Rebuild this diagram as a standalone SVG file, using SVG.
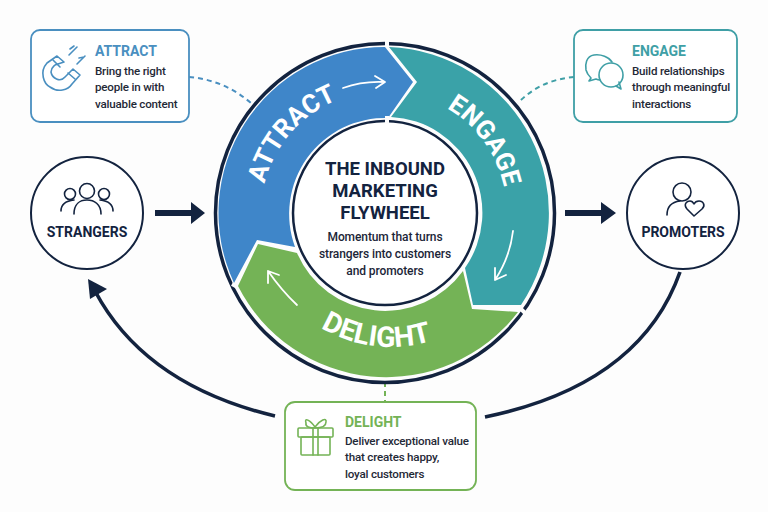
<svg xmlns="http://www.w3.org/2000/svg" width="768" height="512" viewBox="0 0 768 512">
<style>
text{font-family:Roboto,"Liberation Sans",sans-serif}
.navy{fill:none;stroke:#13233f}
.wl{font-size:26px;font-weight:700;fill:#fff}
.wd{font-size:28.5px}
.ct{font-size:18.5px;font-weight:700;fill:#13233f;text-anchor:middle}
.cs{font-size:12px;font-weight:500;fill:#1c2638;text-anchor:middle;letter-spacing:-.1px}
.cd{font-size:14px;font-weight:700}
.b{font-size:11.6px;font-weight:500;fill:#1f2937;letter-spacing:-.2px}
.nl{font-size:14px;font-weight:700;fill:#13233f;text-anchor:middle}
.card{fill:#fff;stroke-width:1.8}
.ic{fill:none;stroke-width:1.6;stroke-linecap:round;stroke-linejoin:round}
.wa{fill:none;stroke:#fff;stroke-width:1.8;stroke-linecap:round;stroke-linejoin:round}
.dash{fill:none;stroke-width:2;stroke-dasharray:5 4}
.gap{stroke:#fdfdfd;stroke-width:4}
</style>
<defs>
<path id="pa" d="M262 196A122 122 0 0 1 349 96"/>
<path id="pe" d="M437 103A122 122 0 0 1 506 198"/>
<path id="pd" d="M292 305A137 137 0 0 0 465 325"/>
</defs>
<rect width="768" height="512" fill="#fdfdfd"/>
<g id="connectors">
<path class="navy" stroke-width="3.6" d="M275 416Q145 385 95 291"/>
<path d="M88 279L107 289L90 299Z" fill="#13233f"/>
<path class="navy" stroke-width="3.6" d="M485 417Q640 385 680 272"/>
<path d="M155 210H191V202L205 213L191 224V216H155Z" fill="#13233f"/>
<path d="M565 210H601V202L616 213L601 224V216H565Z" fill="#13233f"/>
<path class="dash" stroke="#4a8fc0" d="M189 77Q225 80 252 104"/>
<path class="dash" stroke="#3f9fa6" d="M574 77Q540 80 518 103"/>
<path class="dash" stroke="#74b356" d="M385 382V402"/>
</g>
<g id="wheel">
<circle class="navy" cx="385" cy="213" r="169.5" stroke-width="3.5"/>
<path d="M387 37V49M232 284L241 289M518 306L525 313" class="gap"/>
<path d="M234 283A166 166 0 0 1 385 47L413 82L388 118A96 96 0 0 0 295 247L257 240Z" fill="#3f86c9"/>
<path d="M389 47A166 166 0 0 1 521 305H473L465 268A96 96 0 0 0 391 117L417 82Z" fill="#3aa2a8"/>
<path d="M518 312A166 166 0 0 1 238 286L258 244L297 253A96 96 0 0 0 463 271L472 309Z" fill="#74b356"/>
<text class="wl"><textPath href="#pa" startOffset="50%" text-anchor="middle">ATTRACT</textPath></text>
<text class="wl"><textPath href="#pe" startOffset="50%" text-anchor="middle">ENGAGE</textPath></text>
<text class="wl wd"><textPath href="#pd" startOffset="50%" text-anchor="middle">DELIGHT</textPath></text>
<path class="wa" d="M343 88Q362 81 384 82M375 76L385 82L376 88"/>
<path class="wa" d="M513 231Q510 257 495 280M495 268L495 280L506 275"/>
<path class="wa" d="M297 305Q282 291 268 271M268 283L268 271L279 275"/>
<circle cx="385" cy="213" r="92" fill="#fff" stroke="#13233f" stroke-width="2.5"/>
<path d="M387 116V124" class="gap" stroke-width="2"/>
<text class="ct" x="385" y="175">THE INBOUND</text>
<text class="ct" x="385" y="197">MARKETING</text>
<text class="ct" x="385" y="219">FLYWHEEL</text>
<text class="cs" x="385" y="241">Momentum that turns</text>
<text class="cs" x="385" y="258">strangers into customers</text>
<text class="cs" x="385" y="275">and promoters</text>
</g>
<g id="attract-card">
<rect class="card" x="31" y="30" width="158" height="92" rx="9" stroke="#4a8fc0"/>
<g class="ic" stroke="#4a8fc0">
<path d="M57 56L47 63C39 72 44 84 50 87C58 93 68 90 72 84L80 75L73 69L65 77C60 83 52 78 51 72C51 68 53 67 55 65L64 62Z"/>
<path d="M53 60L60 67M68 73L75 79"/>
<path d="M69 55L77 47M70 49L74 46M77 64L85 56M79 58L84 57"/>
</g>
<text class="cd" x="95" y="56" fill="#4a8fc0">ATTRACT</text>
<text class="b" x="95" y="75">Bring the right</text>
<text class="b" x="95" y="91">people in with</text>
<text class="b" x="95" y="108">valuable content</text>
</g>
<g id="engage-card">
<rect class="card" x="574" y="30" width="163" height="92" rx="9" stroke="#3f9fa6"/>
<g class="ic" stroke="#3f9fa6">
<path d="M612 62C609 57 601 54 594 55C586 56 585 65 586 70C587 74 589 76 591 78L589 81L596 79C598 80 599 80 600 80"/>
<circle cx="611" cy="75" r="12"/>
<path d="M616 86L621 89L619 82"/>
</g>
<text class="cd" x="632" y="56" fill="#3f9fa6">ENGAGE</text>
<text class="b" x="632" y="75">Build relationships</text>
<text class="b" x="632" y="91">through meaningful</text>
<text class="b" x="632" y="108">interactions</text>
</g>
<g id="delight-card">
<rect class="card" x="285" y="402" width="191" height="88" rx="10" stroke="#74b356"/>
<g class="ic" stroke="#74b356">
<rect x="298" y="428" width="35" height="9" rx="1"/>
<rect x="301" y="437" width="29" height="18" rx="1"/>
<path d="M313 428V455M318 428V455"/>
<path d="M315 427C310 420 304 417 306 423C305 427 310 428 315 428C320 428 326 427 326 422C327 417 320 420 315 427Z"/>
</g>
<text class="cd" x="345" y="427" fill="#74b356">DELIGHT</text>
<text class="b" x="345" y="445">Deliver exceptional value</text>
<text class="b" x="345" y="461">that creates happy,</text>
<text class="b" x="345" y="478">loyal customers</text>
</g>
<g id="strangers">
<circle cx="87" cy="213" r="56" fill="#fff" stroke="#13233f" stroke-width="2"/>
<g class="ic" stroke="#13233f">
<circle cx="87" cy="191" r="7.5"/>
<circle cx="70" cy="194" r="5.5"/>
<circle cx="104" cy="194" r="5.5"/>
<path d="M74 214C74 204 80 200 87 200C94 200 101 204 101 214"/>
<path d="M61 211C61 205 65 201 74 200M113 211C113 205 109 201 100 200"/>
</g>
<text class="nl" x="87" y="237">STRANGERS</text>
</g>
<g id="promoters">
<circle cx="683" cy="213" r="56" fill="#fff" stroke="#13233f" stroke-width="2"/>
<g class="ic" stroke="#13233f">
<circle cx="682" cy="192" r="9"/>
<path d="M667 215C667 206 672 202 680 201"/>
<path d="M694 216L687 209C683 204 687 201 690 201C692 201 693 202 694 204C695 202 697 201 699 201C703 201 706 205 702 209Z"/>
</g>
<text class="nl" x="683" y="237">PROMOTERS</text>
</g>
</svg>
